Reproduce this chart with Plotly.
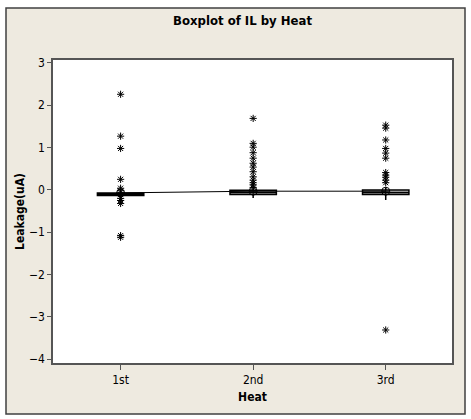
import plotly.graph_objects as go

categories = ["1st", "2nd", "3rd"]
q1 = [-0.13, -0.11, -0.11]
median = [-0.10, -0.06, -0.06]
q3 = [-0.07, -0.01, 0.00]
lower_fence = [-0.15, -0.19, -0.24]
upper_fence = [-0.05, 0.03, 0.05]
means = [-0.07, -0.03, -0.03]

outliers_1st = [2.26, 1.27, 0.98, 0.25, 0.04, -0.02, -0.20, -0.25, -0.32, -1.08, -1.12]
outliers_2nd = [1.69, 1.10, 1.01, 0.88, 0.75, 0.63, 0.54, 0.43, 0.31, 0.23, 0.17, 0.12, 0.06]
outliers_3rd = [1.53, 1.46, 1.18, 0.98, 0.87, 0.75, 0.41, 0.35, 0.30, 0.23, 0.17, -3.31]

FONT = "DejaVu Sans Condensed, Liberation Sans Narrow, DejaVu Sans, sans-serif"

fig = go.Figure()

fig.add_trace(go.Box(
    x=categories, q1=q1, median=median, q3=q3,
    lowerfence=lower_fence, upperfence=upper_fence,
    boxpoints=False, width=0.35, whiskerwidth=0,
    fillcolor="#C4C4C4", line=dict(color="black", width=1.5),
    showlegend=False, hoverinfo="skip",
))

for cat, vals in zip(categories, [outliers_1st, outliers_2nd, outliers_3rd]):
    fig.add_trace(go.Scatter(
        x=[cat] * len(vals), y=vals, mode="markers",
        marker=dict(symbol="asterisk-open", size=6, color="black",
                    line=dict(color="black", width=1)),
        showlegend=False, hoverinfo="skip",
    ))

fig.add_trace(go.Scatter(
    x=categories, y=means, mode="lines+markers",
    line=dict(color="black", width=1),
    marker=dict(symbol="circle-cross-open", size=8, color="black",
                line=dict(color="black", width=1)),
    showlegend=False, hoverinfo="skip",
))

fig.update_layout(
    width=471, height=419,
    margin=dict(l=53, r=19, t=60, b=56),
    paper_bgcolor="white",
    plot_bgcolor="white",
    title=dict(text="<b>Boxplot of IL by Heat</b>", x=0.515, xanchor="center",
               y=1 - 20 / 419, yanchor="middle",
               font=dict(family=FONT, size=13, color="black")),
    font=dict(family=FONT, size=12, color="black"),
    shapes=[
        dict(type="rect", xref="paper", yref="paper", layer="below",
             x0=-47 / 399, x1=1 + 13 / 399, y0=-51 / 303, y1=1 + 52 / 303,
             fillcolor="#EEEAE0", line=dict(color="#404040", width=1.5)),
        dict(type="rect", xref="paper", yref="paper", layer="below",
             x0=0, x1=1, y0=0, y1=1, fillcolor="white", line=dict(width=0)),
    ],
)

fig.update_xaxes(
    type="category", range=[-0.51, 2.5],
    showline=True, linecolor="#555555", linewidth=1.5, mirror=True,
    ticks="outside", ticklen=5, tickcolor="#555555",
    showgrid=False, zeroline=False,
    title=dict(text="<b>Heat</b>", standoff=6, font=dict(family=FONT, size=12)),
)
fig.update_yaxes(
    range=[-4.09, 3.07], tickvals=[-4, -3, -2, -1, 0, 1, 2, 3],
    showline=True, linecolor="#555555", linewidth=1.5, mirror=True,
    ticks="outside", ticklen=4, tickcolor="#555555",
    showgrid=False, zeroline=False,
    title=dict(text="<b>Leakage(uA)</b>", standoff=2, font=dict(family=FONT, size=12)),
)

fig.write_html("out.html")
